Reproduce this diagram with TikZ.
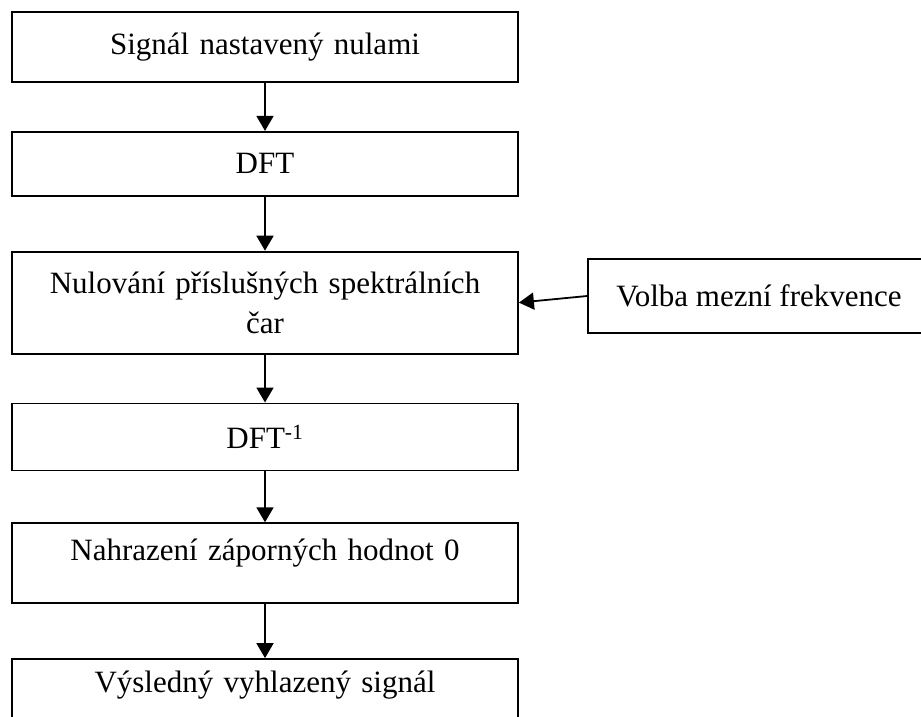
\documentclass[tikz,border=0pt]{standalone}
\usepackage{fontspec}
\setmainfont{Liberation Serif}
\usepackage{tikz}
\usetikzlibrary{arrows.meta}
\usetikzlibrary{positioning}

\begin{document}
\begin{tikzpicture}[
  x=1pt, y=-1pt,
  every node/.style={font=\fontsize{31}{40}\selectfont},
  stepbox/.style={draw, line width=1.8pt, inner xsep=0pt, text width=506pt, align=center},
  arr/.style={line width=1.8pt, -{Triangle[width=17pt,length=15pt]}}
]
\clip (0,0) rectangle (921,716);
\node[stepbox, minimum height=70pt] (sig) at (265,47) {Signál nastavený nulami};
\node[stepbox, minimum height=64pt, below=48pt of sig] (dft) {DFT};
\node[stepbox, minimum height=102pt, below=54pt of dft] (nul) {Nulování příslušných spektrálních\\čar};
\node[stepbox, minimum height=67pt, below=48pt of nul] (idft) {DFT\textsuperscript{-1}};
\node[stepbox, minimum height=80pt, text depth=26pt, below=51pt of idft] (neg) {Nahrazení záporných hodnot 0};
\node[stepbox, minimum height=70pt, text depth=24pt, below=54pt of neg] (out) {Výsledný vyhlazený signál};
\node[draw, line width=1.8pt, minimum width=342pt, minimum height=74pt] (volba) at (759,296) {Volba mezní frekvence};

\draw[arr] (sig) -- (dft);
\draw[arr] (dft) -- (nul);
\draw[arr] (nul) -- (idft);
\draw[arr] (idft) -- (neg);
\draw[arr] (neg) -- (out);
\draw[arr] (volba.west) -- (nul.east);
\end{tikzpicture}
\end{document}
